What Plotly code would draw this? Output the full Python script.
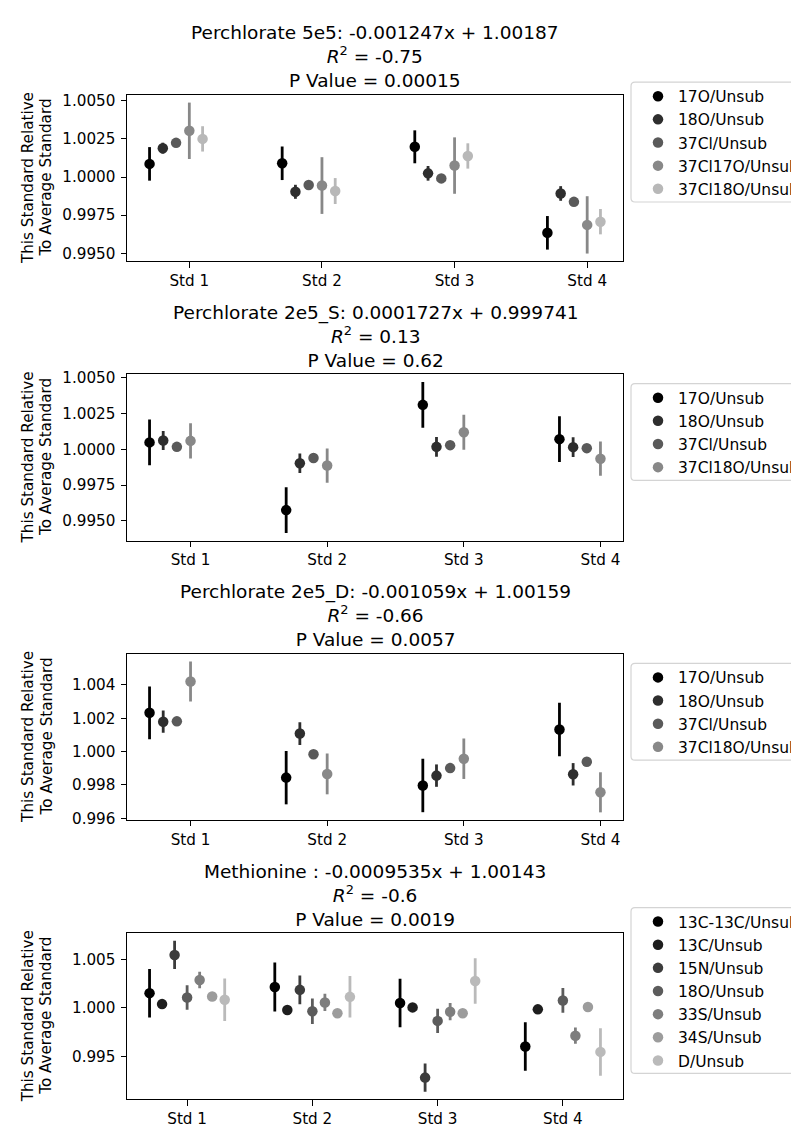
import plotly.graph_objects as go

# ---------------- data ----------------
standards = ["Std 1", "Std 2", "Std 3", "Std 4"]

p1_title = "Perchlorate 5e5: -0.001247x + 1.00187"
p1_r2 = "-0.75"
p1_p = "0.00015"
p1_series = ["17O/Unsub", "18O/Unsub", "37Cl/Unsub", "37Cl17O/Unsub", "37Cl18O/Unsub"]
p1_means = [
    [1.00086, 1.00090, 1.00198, 0.99634],
    [1.00189, 0.99903, 1.00024, 0.99892],
    [1.00224, 0.99948, 0.99991, 0.99837],
    [1.00303, 0.99944, 1.00075, 0.99686],
    [1.00250, 0.99908, 1.00138, 0.99707],
]
p1_errs = [
    [0.00110, 0.00110, 0.00108, 0.00110],
    [0.00036, 0.00046, 0.00048, 0.00048],
    [0.00008, 0.00008, 0.00008, 0.00008],
    [0.00185, 0.00186, 0.00185, 0.00188],
    [0.00083, 0.00085, 0.00083, 0.00083],
]
p1_colors = ["#000000", "#2e2e2e", "#5a5a5a", "#888888", "#b8b8b8"]

p2_title = "Perchlorate 2e5_S: 0.0001727x + 0.999741"
p2_r2 = "0.13"
p2_p = "0.62"
p2_series = ["17O/Unsub", "18O/Unsub", "37Cl/Unsub", "37Cl18O/Unsub"]
p2_means = [
    [1.00049, 0.99575, 1.00312, 1.00072],
    [1.00062, 0.99903, 1.00018, 1.00016],
    [1.00018, 0.99940, 1.00030, 1.00009],
    [1.00060, 0.99887, 1.00120, 0.99935],
]
p2_errs = [
    [0.00160, 0.00160, 0.00160, 0.00160],
    [0.00067, 0.00068, 0.00069, 0.00069],
    [0.00008, 0.00008, 0.00008, 0.00008],
    [0.00124, 0.00120, 0.00123, 0.00120],
]
p2_colors = ["#000000", "#2e2e2e", "#5a5a5a", "#888888"]

p3_title = "Perchlorate 2e5_D: -0.001059x + 1.00159"
p3_r2 = "-0.66"
p3_p = "0.0057"
p3_series = ["17O/Unsub", "18O/Unsub", "37Cl/Unsub", "37Cl18O/Unsub"]
p3_means = [
    [1.00232, 0.99844, 0.99797, 1.00132],
    [1.00179, 1.00108, 0.99856, 0.99864],
    [1.00181, 0.99984, 0.99901, 0.99939],
    [1.00420, 0.99866, 0.99957, 0.99756],
]
p3_errs = [
    [0.00158, 0.00160, 0.00160, 0.00160],
    [0.00067, 0.00068, 0.00067, 0.00067],
    [0.00008, 0.00008, 0.00008, 0.00008],
    [0.00120, 0.00122, 0.00121, 0.00120],
]
p3_colors = ["#000000", "#2e2e2e", "#5a5a5a", "#888888"]

p4_title = "Methionine : -0.0009535x + 1.00143"
p4_r2 = "-0.6"
p4_p = "0.0019"
p4_series = ["13C-13C/Unsub", "13C/Unsub", "15N/Unsub", "18O/Unsub",
             "33S/Unsub", "34S/Unsub", "D/Unsub"]
p4_means = [
    [1.00150, 1.00214, 1.00048, 0.99599],
    [1.00037, 0.99976, 1.00003, 0.99983],
    [1.00544, 1.00184, 0.99279, None],
    [1.00105, 0.99963, 0.99864, 1.00075],
    [1.00286, 1.00054, 0.99959, 0.99711],
    [1.00116, 0.99942, 0.99942, 1.00007],
    [1.00082, 1.00112, 1.00276, 0.99544],
]
p4_errs = [
    [0.00250, 0.00253, 0.00250, 0.00250],
    [0.00008, 0.00008, 0.00008, 0.00008],
    [0.00146, 0.00148, 0.00146, None],
    [0.00127, 0.00131, 0.00126, 0.00128],
    [0.00085, 0.00089, 0.00089, 0.00084],
    [0.00008, 0.00008, 0.00008, 0.00008],
    [0.00218, 0.00214, 0.00235, 0.00245],
]
p4_colors = ["#000000", "#1e1e1e", "#3c3c3c", "#5c5c5c", "#7e7e7e", "#9c9c9c", "#bababa"]

p1_ticks = [0.995, 0.9975, 1.0, 1.0025, 1.005]
p2_ticks = [0.995, 0.9975, 1.0, 1.0025, 1.005]
p3_ticks = [0.996, 0.998, 1.0, 1.002, 1.004]
p4_ticks = [0.995, 1.0, 1.005]

y_label_lines = ["This Standard Relative", "To Average Standard"]

panels = [
    (p1_title, p1_r2, p1_p, p1_series, p1_means, p1_errs, p1_colors, p1_ticks, ".4f"),
    (p2_title, p2_r2, p2_p, p2_series, p2_means, p2_errs, p2_colors, p2_ticks, ".4f"),
    (p3_title, p3_r2, p3_p, p3_series, p3_means, p3_errs, p3_colors, p3_ticks, ".3f"),
    (p4_title, p4_r2, p4_p, p4_series, p4_means, p4_errs, p4_colors, p4_ticks, ".3f"),
]

# ---------------- layout geometry (pixels) ----------------
W, H = 799, 1126
FONT = "DejaVu Sans"
FS_TICK = 15.2
FS_LEG = 15.5
FS_TITLE = 18.5
plot_left, plot_right = 119, 615
plot_tops = [83, 365.67, 648.33, 931]
plot_h = 168
legend_first_item = [84, 389, 672, 919]
legend_item_h = 23.3
legend_box_left, legend_box_right = 623, 801
legend_text_x = 630
dodge_start, dodge_step = -0.3, 0.1
title_mid_offset = 38.5
ylabel_x = [20, 38.5]


def px_x(p):
    return p / W


def px_y(p):
    return 1 - p / H


def rounded_rect(x0, y0, x1, y1, r):
    X0, X1 = px_x(x0), px_x(x1)
    Y0, Y1 = px_y(y0), px_y(y1)
    rx, ry = r / W, r / H
    return (f"M {X0 + rx} {Y0} L {X1 - rx} {Y0} Q {X1} {Y0} {X1} {Y0 - ry} "
            f"L {X1} {Y1 + ry} Q {X1} {Y1} {X1 - rx} {Y1} "
            f"L {X0 + rx} {Y1} Q {X0} {Y1} {X0} {Y1 + ry} "
            f"L {X0} {Y0 - ry} Q {X0} {Y0} {X0 + rx} {Y0} Z")


fig = go.Figure()
layout = dict(
    width=W, height=H,
    margin=dict(l=0, r=0, t=0, b=0),
    plot_bgcolor="white", paper_bgcolor="white",
    font=dict(family=FONT, size=FS_TICK, color="black"),
    showlegend=True,
    annotations=[],
    shapes=[],
)

for k, (title, r2, pv, series, means, errs, colors, ticks, fmt) in enumerate(panels):
    n = k + 1
    xa = "x" if n == 1 else f"x{n}"
    ya = "y" if n == 1 else f"y{n}"
    lg = "legend" if n == 1 else f"legend{n}"
    xs_all, lo_all, hi_all = [], [], []
    for i, (name, m, e, c) in enumerate(zip(series, means, errs, colors)):
        xs = [j + dodge_start + dodge_step * i for j in range(len(standards))]
        fig.add_trace(go.Scatter(
            x=xs, y=m, mode="markers", name=name,
            marker=dict(color=c, size=10.5, line=dict(width=0)),
            error_y=dict(type="data", array=e, visible=True, width=0,
                         thickness=2.8, color=c),
            xaxis=xa, yaxis=ya, legend=lg, hoverinfo="skip",
        ))
        for x, v, d in zip(xs, m, e):
            if v is None:
                continue
            xs_all.append(x)
            lo_all.append(v - d)
            hi_all.append(v + d)
    xspan = max(xs_all) - min(xs_all)
    xr = [min(xs_all) - 0.05 * xspan, max(xs_all) + 0.05 * xspan]
    yspan = max(hi_all) - min(lo_all)
    yr = [min(lo_all) - 0.05 * yspan, max(hi_all) + 0.05 * yspan]

    top = plot_tops[k]
    bot = top + plot_h
    axis_common = dict(showline=True, mirror=True, linecolor="black", linewidth=1.2,
                       ticks="outside", ticklen=5.4, tickwidth=1.2, tickcolor="black",
                       showgrid=False, zeroline=False,
                       tickfont=dict(family=FONT, size=FS_TICK, color="black"))
    layout["xaxis" if n == 1 else f"xaxis{n}"] = dict(
        domain=[px_x(plot_left), px_x(plot_right)], anchor=ya, range=xr,
        tickmode="array", tickvals=list(range(len(standards))), ticktext=standards,
        **axis_common)
    layout["yaxis" if n == 1 else f"yaxis{n}"] = dict(
        domain=[px_y(bot), px_y(top)], anchor=xa, range=yr,
        tickmode="array", tickvals=ticks, tickformat=fmt, ticklabelstandoff=2,
        **axis_common)

    # legend
    first = legend_first_item[k]
    n_items = len(series)
    box_top = first - 14
    box_bot = first + (n_items - 1) * legend_item_h + 14
    layout["shapes"].append(dict(
        type="path", path=rounded_rect(legend_box_left, box_top, legend_box_right, box_bot, 4),
        xref="paper", yref="paper", line=dict(color="#d4d4d4", width=1.2),
        fillcolor="rgba(255,255,255,0.8)", layer="below",
    ))
    layout[lg] = dict(
        x=px_x(legend_text_x), y=px_y(first - 16.6), xanchor="left", yanchor="top",
        xref="paper", yref="paper",
        bgcolor="rgba(0,0,0,0)", borderwidth=0,
        font=dict(family=FONT, size=FS_LEG, color="black"),
        tracegroupgap=0,
    )

    # title (three lines in one text block)
    layout["annotations"].append(dict(
        text=f"{title}<br><i>R</i><sup>2</sup> = {r2}<br>P Value = {pv}",
        x=px_x((plot_left + plot_right) / 2), y=px_y(top - title_mid_offset),
        xref="paper", yref="paper", xanchor="center", yanchor="middle",
        showarrow=False, align="center",
        font=dict(family=FONT, size=FS_TITLE, color="black"),
    ))
    # y label (two lines)
    for line, lx in zip(y_label_lines, ylabel_x):
        layout["annotations"].append(dict(
            text=line,
            x=px_x(lx), y=px_y(top + plot_h / 2),
            xref="paper", yref="paper", xanchor="center", yanchor="middle",
            textangle=-90, showarrow=False, align="center",
            font=dict(family=FONT, size=FS_TICK, color="black"),
        ))

fig.update_layout(**layout)
fig.write_html("out.html")
